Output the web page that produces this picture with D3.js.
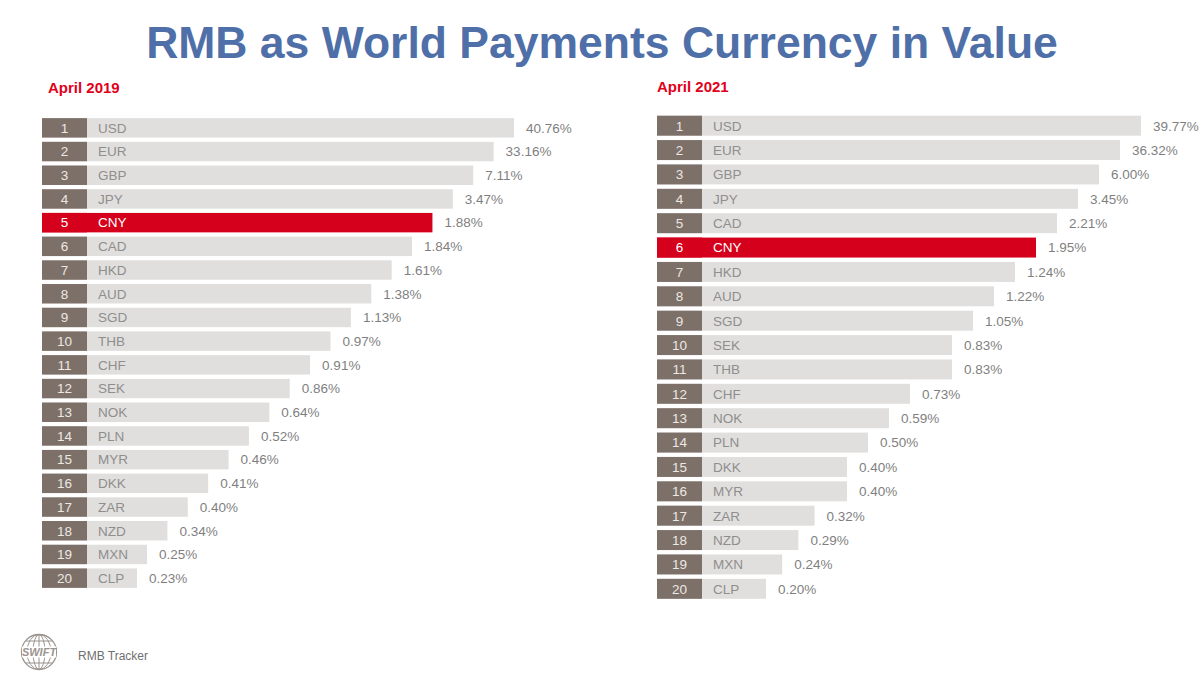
<!DOCTYPE html>
<html>
<head>
<meta charset="utf-8">
<script src="https://cdn.jsdelivr.net/npm/d3@7/dist/d3.min.js"></script>
<style>
  html, body { margin: 0; padding: 0; background: #fff; }
  svg { display: block; }
  text { font-family: "Liberation Sans", Arial, sans-serif; }
</style>
</head>
<body>
<svg id="chart" width="1200" height="695"></svg>
<script>
// ---- DATA ----
const title = "RMB as World Payments Currency in Value";
const periods = ["April 2019", "April 2021"];
const currencies2019 = ["USD","EUR","GBP","JPY","CNY","CAD","HKD","AUD","SGD","THB","CHF","SEK","NOK","PLN","MYR","DKK","ZAR","NZD","MXN","CLP"];
const shares2019 = [40.76,33.16,7.11,3.47,1.88,1.84,1.61,1.38,1.13,0.97,0.91,0.86,0.64,0.52,0.46,0.41,0.40,0.34,0.25,0.23];
const currencies2021 = ["USD","EUR","GBP","JPY","CAD","CNY","HKD","AUD","SGD","SEK","THB","CHF","NOK","PLN","DKK","MYR","ZAR","NZD","MXN","CLP"];
const shares2021 = [39.77,36.32,6.00,3.45,2.21,1.95,1.24,1.22,1.05,0.83,0.83,0.73,0.59,0.50,0.40,0.40,0.32,0.29,0.24,0.20];
const highlight = "CNY";
const footerText = "RMB Tracker";

// ---- RENDER ----
const svg = d3.select("#chart");
const C = {
  title: "#4f6fa8", period: "#e2001a", box: "#7d7068", bar: "#e1dfdd",
  red: "#d5001c", label: "#8e8e8e", value: "#7f7f7f", boxText: "#ece8e4"
};

svg.append("text")
  .attr("x", 602).attr("y", 58)
  .attr("text-anchor", "middle")
  .attr("font-size", 44.5).attr("font-weight", "bold")
  .attr("fill", C.title)
  .text(title);

function panel(cfg) {
  const { period, cats, vals, x0, boxW, yTop, yBottom, endScale, periodX, periodY } = cfg;
  const g = svg.append("g");
  g.append("text").attr("x", periodX).attr("y", periodY)
    .attr("font-size", 15).attr("font-weight", "bold").attr("fill", C.period)
    .text(period);

  const data = cats.map((c, i) => {
    // competition ranking: ties share the length of the first tied rank
    const pos = vals.indexOf(vals[i]) + 1;
    return { rank: i + 1, cur: c, val: vals[i], pos };
  });

  const y = d3.scaleBand()
    .domain(data.map(d => d.rank))
    .range([yTop, yBottom])
    .paddingInner(0.18).paddingOuter(0.09);

  const rows = g.selectAll("g.row").data(data).join("g").attr("class", "row")
    .attr("transform", d => `translate(0,${y(d.rank)})`);
  const h = y.bandwidth();

  rows.append("rect")
    .attr("x", x0).attr("y", 0)
    .attr("width", d => endScale(d.pos) - x0).attr("height", h)
    .attr("fill", d => d.cur === highlight ? C.red : C.bar);
  rows.append("rect")
    .attr("x", x0).attr("y", 0).attr("width", boxW).attr("height", h)
    .attr("fill", d => d.cur === highlight ? C.red : C.box);
  rows.append("text")
    .attr("x", x0 + boxW / 2).attr("y", h / 2).attr("dy", "0.36em")
    .attr("text-anchor", "middle").attr("font-size", 13.5)
    .attr("fill", d => d.cur === highlight ? "#fff" : C.boxText)
    .text(d => d.rank);
  rows.append("text")
    .attr("x", x0 + boxW + 11).attr("y", h / 2).attr("dy", "0.36em")
    .attr("font-size", 13.5)
    .attr("fill", d => d.cur === highlight ? "#fff" : C.label)
    .text(d => d.cur);
  rows.append("text")
    .attr("x", d => endScale(d.pos) + 12).attr("y", h / 2).attr("dy", "0.36em")
    .attr("font-size", 13.5).attr("fill", C.value)
    .text(d => d.val.toFixed(2) + "%");
}

panel({
  period: periods[0], cats: currencies2019, vals: shares2019,
  x0: 42, boxW: 45, yTop: 116, yBottom: 590,
  endScale: d3.scaleLinear().domain([1, 19, 20]).range([514, 147, 137]),
  periodX: 48, periodY: 93
});
panel({
  period: periods[1], cats: currencies2021, vals: shares2021,
  x0: 657, boxW: 45, yTop: 113.5, yBottom: 601,
  endScale: d3.scaleLinear().domain([1, 15, 20]).range([1141, 847, 766]),
  periodX: 657, periodY: 92
});

// footer: SWIFT globe logo
const logo = svg.append("g").attr("transform", "translate(39,652)");
const lc = "#9b948f";
logo.append("circle").attr("r", 17.5).attr("fill", "none").attr("stroke", lc).attr("stroke-width", 1.3);
[6, 12].forEach(rx => logo.append("ellipse").attr("rx", rx).attr("ry", 17.5)
  .attr("fill", "none").attr("stroke", lc).attr("stroke-width", 1));
logo.append("line").attr("x1", 0).attr("x2", 0).attr("y1", -17.5).attr("y2", 17.5).attr("stroke", lc);
[-11, 11].forEach(yy => logo.append("line").attr("x1", -Math.sqrt(17.5*17.5-yy*yy)).attr("x2", Math.sqrt(17.5*17.5-yy*yy))
  .attr("y1", yy).attr("y2", yy).attr("stroke", lc));
logo.append("rect").attr("x", -17).attr("y", -5.5).attr("width", 34).attr("height", 11).attr("fill", "#fff");
logo.append("text").attr("x", 0).attr("y", 4).attr("text-anchor", "middle")
  .attr("font-family", "'Liberation Serif', serif").attr("font-style", "italic").attr("font-weight", "bold")
  .attr("font-size", 11).attr("fill", lc).text("SWIFT");

svg.append("text").attr("x", 78).attr("y", 660)
  .attr("font-size", 12).attr("fill", "#6f6f6f").text(footerText);
</script>
</body>
</html>
